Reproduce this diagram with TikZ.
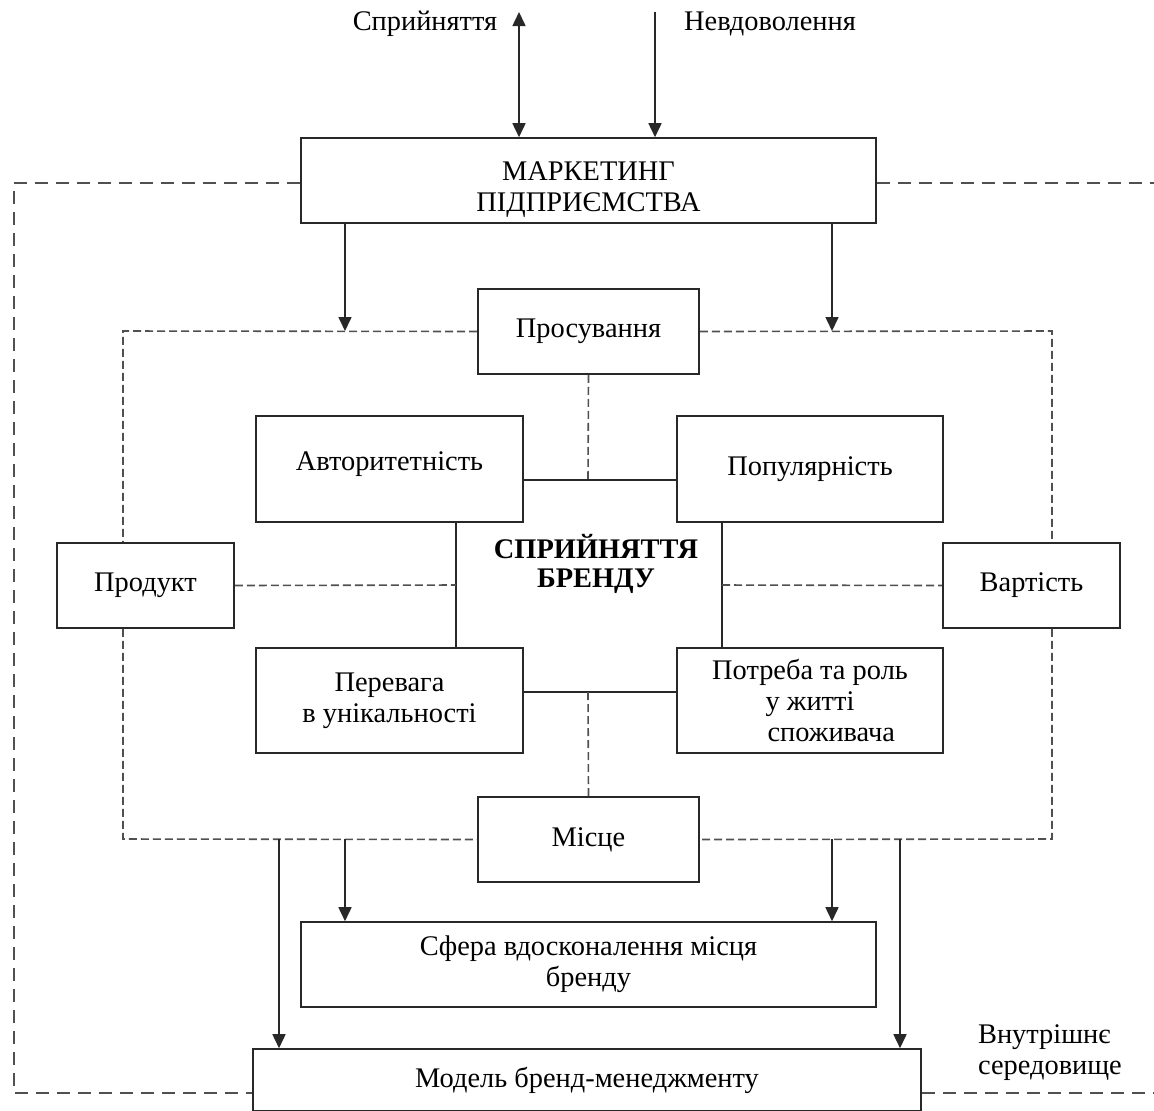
\documentclass[tikz,border=0pt]{standalone}
\usepackage{fontspec}
\setmainfont{Liberation Serif}
\usetikzlibrary{arrows.meta}
\definecolor{ln}{HTML}{282828}
\definecolor{dl}{HTML}{505050}
\begin{document}
\begin{tikzpicture}[x=0.5pt,y=-0.5pt,
  every node/.style={font=\fontsize{14.2}{15.5}\selectfont, text=black},
  box/.style={draw=ln, line width=0.8pt, align=center, inner sep=0pt},
  txt/.style={align=center, inner sep=0pt},
  arr/.style={draw=ln, line width=0.8pt, -{Triangle[length=7pt,width=6.5pt]}},
  dbig/.style={draw=dl, line width=0.8pt, dash pattern=on 6.5pt off 4pt},
  dsmall/.style={draw=dl, line width=0.8pt, dash pattern=on 4pt off 2pt},
  solid line/.style={draw=ln, line width=0.8pt}]
\useasboundingbox (0,0) rectangle (1154,1110);
\clip (0,0) rectangle (1154,1110);
% boxes
\node[box, minimum width=287.5pt, minimum height=42.5pt] (mark) at (588.5,180.5) {};
\node[txt] (markt) at (588.5,190) {МАРКЕТИНГ\\ПІДПРИЄМСТВА};
\node[box, minimum width=110.5pt, minimum height=42.5pt] (prom) at (588.5,331.5) {Просування};
\node[box, minimum width=133.5pt, minimum height=53pt] (avt) at (389.5,469) {};
\node[txt] (avtt) at (389.5,464) {Авторитетність};
\node[box, minimum width=133pt, minimum height=53pt] (pop) at (810,469) {Популярність};
\node[box, minimum width=88.5pt, minimum height=42.5pt] (prod) at (145.5,585.5) {Продукт};
\node[box, minimum width=88.5pt, minimum height=42.5pt] (vart) at (1031.5,585.5) {Вартість};
\node[box, minimum width=133.5pt, minimum height=52.5pt] (per) at (389.5,700.5) {Перевага\\в унікальності};
\node[box, minimum width=133pt, minimum height=52.5pt] (potr) at (810,700.5) {Потреба та роль\\у житті\\\hspace*{1.5em}споживача};
\node[box, minimum width=110.5pt, minimum height=42.5pt] (mist) at (588.5,839.5) {Місце};
\node[box, minimum width=287.5pt, minimum height=42.5pt] (sfera) at (588.5,964.5) {Сфера вдосконалення місця\\бренду};
\node[box, minimum width=334pt, minimum height=31pt] (model) at (587,1080) {Модель бренд-менеджменту};
% central text
\node[align=center, font=\fontsize{14.2}{14.5}\selectfont\bfseries] (cen) at (596,564) {СПРИЙНЯТТЯ\\БРЕНДУ};
% labels
\node (l1) at (425,24) {Сприйняття};
\node (l2) at (770,24) {Невдоволення};
\node[align=left, anchor=west] (l3) at (971,1053) {Внутрішнє\\середовище};
% coordinates
\coordinate (t1) at (519,12);
\coordinate (t2) at (655,12);
\coordinate (a1) at (345,331);
\coordinate (a2) at (832,331);
\coordinate (b1) at (279,839);
\coordinate (b2) at (345,839);
\coordinate (b3) at (832,839);
\coordinate (b4) at (900,839);
\coordinate (ITL) at (123,331);
\coordinate (ITR) at (1052,331);
\coordinate (IBL) at (123,839);
\coordinate (IBR) at (1052,839);
\coordinate (OTL) at (14,183);
\coordinate (OBL) at (14,1093);
\coordinate (OTR) at (1170,183);
\coordinate (OBR) at (1170,1093);
\coordinate (cT) at (588,480);
\coordinate (cB) at (588,692);
\coordinate (cL) at (456,585);
\coordinate (cR) at (722,585);
% top arrows
\draw[draw=ln, line width=0.8pt, {Triangle[length=7pt,width=6.5pt]}-{Triangle[length=7pt,width=6.5pt]}] (t1) -- (mark.north -| t1);
\draw[arr] (t2) -- (mark.north -| t2);
\draw[arr] (mark.south -| a1) -- (a1);
\draw[arr] (mark.south -| a2) -- (a2);
% outer dashed frame
\draw[dbig] (mark.west |- OTL) -- (OTL) -- (OBL) -- (model.west |- OBL);
\draw[dbig] (mark.east |- OTR) -- (OTR);
\draw[dbig] (model.east |- OBR) -- (OBR);
% inner dashed frame
\draw[dsmall] (prom.west) -- (ITL) -- (ITL |- prod.north);
\draw[dsmall] (prom.east) -- (ITR) -- (ITR |- vart.north);
\draw[dsmall] (IBL |- prod.south) -- (IBL) -- (mist.west);
\draw[dsmall] (IBR |- vart.south) -- (IBR) -- (mist.east);
% central square
\draw[solid line] (avt.east |- cT) -- (pop.west |- cT);
\draw[solid line] (per.east |- cB) -- (potr.west |- cB);
\draw[solid line] (avt.south -| cL) -- (per.north -| cL);
\draw[solid line] (pop.south -| cR) -- (potr.north -| cR);
% dashed connections to centre
\draw[dsmall] (prom.south) -- (cT);
\draw[dsmall] (cB) -- (mist.north);
\draw[dsmall] (prod.east) -- (cL);
\draw[dsmall] (cR) -- (vart.west);
% bottom arrows
\draw[arr] (b1) -- (model.north -| b1);
\draw[arr] (b2) -- (sfera.north -| b2);
\draw[arr] (b3) -- (sfera.north -| b3);
\draw[arr] (b4) -- (model.north -| b4);
\end{tikzpicture}
\end{document}
